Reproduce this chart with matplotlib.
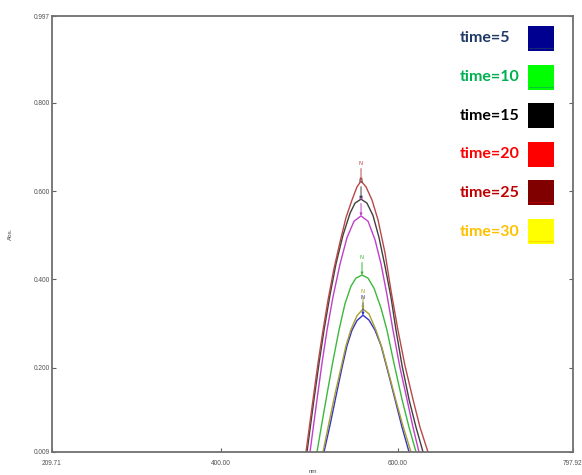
import numpy as np
import matplotlib
matplotlib.use('Agg')
import matplotlib.pyplot as plt
from matplotlib.patches import Rectangle

# absorbance spectra, one (wavelength nm, Abs.) list per time step
wl_t5 = [510.0, 516.8, 523.6, 530.3, 537.1, 542.8, 548.4, 554.1, 560.8, 567.6,
         574.4, 581.2, 589.1, 597.0, 604.9, 612.8, 619.5]
abs_t5 = [-0.05, 0.009, 0.07, 0.135, 0.2, 0.25, 0.285, 0.307, 0.319, 0.308,
          0.285, 0.25, 0.19, 0.128, 0.065, 0.009, -0.04]

wl_t30 = [508.9, 515.7, 522.4, 529.2, 536.0, 541.6, 547.3, 554.1, 560.8, 567.6,
          575.5, 582.3, 590.2, 598.1, 606.0, 615.0, 621.8]
abs_t30 = [-0.05, 0.009, 0.075, 0.14, 0.2, 0.25, 0.287, 0.318, 0.333, 0.322,
           0.285, 0.245, 0.185, 0.125, 0.068, 0.009, -0.035]

wl_t10 = [502.1, 508.9, 514.5, 520.2, 526.9, 533.7, 540.5, 547.3, 552.9, 559.7,
          566.5, 573.3, 581.2, 587.9, 595.8, 604.9, 612.8, 620.7, 627.4]
abs_t10 = [-0.07, 0.009, 0.075, 0.14, 0.215, 0.285, 0.345, 0.385, 0.403, 0.41,
           0.403, 0.38, 0.335, 0.285, 0.21, 0.128, 0.065, 0.009, -0.035]

wl_t20 = [494.2, 501.0, 508.9, 514.5, 520.2, 526.9, 534.9, 542.8, 550.7, 558.6,
          566.5, 574.4, 581.2, 587.9, 594.7, 602.6, 610.5, 617.3, 624.0, 630.8]
abs_t20 = [-0.08, 0.009, 0.128, 0.21, 0.285, 0.36, 0.435, 0.495, 0.532, 0.544,
           0.532, 0.49, 0.435, 0.365, 0.285, 0.2, 0.128, 0.065, 0.009, -0.04]

wl_t15 = [490.8, 497.6, 505.5, 511.2, 516.8, 523.6, 530.3, 538.2, 546.2, 551.8,
          558.6, 565.3, 572.1, 578.9, 585.7, 592.4, 598.1, 604.9, 612.8, 620.7,
          628.6, 635.3]
abs_t15 = [-0.08, 0.009, 0.128, 0.21, 0.285, 0.365, 0.435, 0.5, 0.55, 0.573,
           0.582, 0.573, 0.545, 0.495, 0.43, 0.36, 0.285, 0.205, 0.128, 0.065,
           0.009, -0.04]

wl_t25 = [489.7, 496.5, 504.4, 510.0, 515.7, 521.3, 528.1, 534.9, 541.6, 548.4,
          554.1, 558.6, 564.2, 571.0, 577.8, 585.7, 592.4, 600.3, 608.2, 617.3,
          625.2, 634.2, 641.0]
abs_t25 = [-0.08, 0.009, 0.128, 0.21, 0.285, 0.353, 0.425, 0.485, 0.54, 0.58,
           0.61, 0.623, 0.61, 0.58, 0.535, 0.46, 0.375, 0.285, 0.205, 0.128,
           0.065, 0.009, -0.04]

spectra = [(wl_t5, abs_t5), (wl_t30, abs_t30), (wl_t10, abs_t10),
           (wl_t20, abs_t20), (wl_t15, abs_t15), (wl_t25, abs_t25)]
line_colors = ['#3434c8', '#a8a030', '#3cb83c', '#c040c8', '#404040', '#b84848']

x_ticks = [209.71, 400.00, 600.00, 797.92]
y_ticks = [0.009, 0.200, 0.400, 0.600, 0.800, 0.997]

legend_labels = ['time=5', 'time=10', 'time=15', 'time=20', 'time=25', 'time=30']
legend_text_colors = ['#1f3864', '#00b050', '#000000', '#ff0000', '#c00000', '#ffc000']
legend_box_colors = ['#000090', '#00ff00', '#000000', '#ff0000', '#800000', '#ffff00']

W, H = 582, 475
fig = plt.figure(figsize=(W / 100, H / 100), dpi=100)
ax = fig.add_axes([52 / W, 1 - 452 / H, 521 / W, 436 / H])

for (wl, vals), c in zip(spectra, line_colors):
    ax.plot(wl, vals, color=c, lw=1.0, solid_joinstyle='round')
    # peak pick marker
    i = int(np.argmax(vals))
    ax.annotate('N', xy=(wl[i], vals[i]), xytext=(0, 11),
                textcoords='offset points', ha='center', va='bottom',
                fontsize=4, color=c,
                arrowprops=dict(arrowstyle='-|>', color=c, lw=0.7,
                                mutation_scale=3.5, shrinkA=0, shrinkB=0))

ax.set_xlim(x_ticks[0], x_ticks[-1])
ax.set_ylim(y_ticks[0], y_ticks[-1])
ax.set_xticks(x_ticks)
ax.set_xticklabels(['%.2f' % v for v in x_ticks])
ax.set_yticks(y_ticks)
ax.set_yticklabels(['%.3f' % v for v in y_ticks])
ax.tick_params(direction='in', length=3, width=0.8, colors='#606060',
               labelsize=4.7, labelcolor='#505050', right=True)
ax.tick_params(axis='y', pad=1.5)
ax.tick_params(axis='x', pad=5.5)
for lbl in ax.get_xticklabels() + ax.get_yticklabels():
    lbl.set_family(['Liberation Sans', 'DejaVu Sans'])
for s in ax.spines.values():
    s.set_color('#707070')
    s.set_linewidth(1.3)

ax.set_ylabel('Abs.', fontsize=4.5, color='#505050',
              family=['Liberation Sans', 'DejaVu Sans'])
ax.yaxis.set_label_coords(-0.075, 0.5)
ax.set_xlabel('nm', fontsize=4.5, color='#505050',
              family=['Liberation Sans', 'DejaVu Sans'])
ax.xaxis.set_label_coords(0.5, -0.039)

# legend drawn as coloured text and swatches
for k, (lab, tc, bc) in enumerate(zip(legend_labels, legend_text_colors, legend_box_colors)):
    yc = 38.5 + k * 38.6
    fig.text(460 / W, 1 - yc / H, lab, fontsize=11.5, fontweight='bold',
             family=['Lato', 'DejaVu Sans'], color=tc, ha='left', va='center')
    fig.add_artist(Rectangle((528 / W, 1 - (yc + 12.5) / H), 26 / W, 25 / H,
                             transform=fig.transFigure, facecolor=bc,
                             edgecolor='none'))
    fig.add_artist(plt.Line2D([529 / W, 553 / W], [1 - (yc + 9.5) / H] * 2,
                              transform=fig.transFigure, color=tc, lw=0.8,
                              alpha=0.7))

fig.savefig('out.png', dpi=100)
